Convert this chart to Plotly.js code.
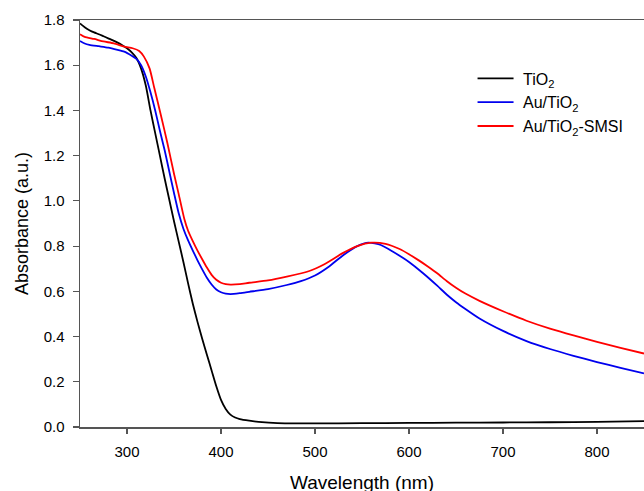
<!DOCTYPE html>
<html>
<head>
<meta charset="utf-8">
<script src="https://cdn.plot.ly/plotly-3.0.1.min.js"></script>
<style>html,body{margin:0;padding:0;background:#fff;}#chart{width:644px;height:491px;}</style>
</head>
<body>
<div id="chart"></div>
<script>
// Wavelength (nm) and absorbance (a.u.)
const seriesNames = ["\u00a0TiO<sub>2</sub>", "\u00a0Au/TiO<sub>2</sub>", "\u00a0Au/TiO<sub>2</sub>-SMSI"];

const tio2Wavelength = [250,255,260,265,270,275,280,285,290,295,300,305,310,315,320,325,330,335,340,345,350,355,360,365,370,375,380,385,390,395,400,405,410,415,420,430,440,460,500,550,600,650,700,750,800,850];
const tio2Absorbance = [1.785,1.768,1.755,1.745,1.737,1.728,1.719,1.710,1.700,1.688,1.675,1.657,1.632,1.585,1.510,1.400,1.300,1.200,1.100,1.005,0.910,0.820,0.730,0.635,0.545,0.465,0.390,0.320,0.250,0.180,0.120,0.080,0.055,0.042,0.035,0.028,0.023,0.017,0.016,0.017,0.018,0.019,0.020,0.021,0.023,0.026];

const auWavelength = [250,255,260,270,280,290,297,305,310,315,320,325,330,335,340,345,350,355,360,365,370,375,380,385,390,395,400,405,410,420,430,450,470,485,500,515,530,545,557,570,583,600,615,630,640,650,660,675,700,725,750,775,800,825,850];
const auAbsorbance = [1.707,1.696,1.690,1.684,1.678,1.668,1.660,1.642,1.628,1.600,1.550,1.480,1.400,1.310,1.225,1.130,1.035,0.945,0.877,0.825,0.780,0.737,0.697,0.660,0.630,0.608,0.596,0.590,0.588,0.592,0.598,0.610,0.628,0.645,0.670,0.710,0.760,0.800,0.815,0.805,0.775,0.730,0.680,0.625,0.586,0.552,0.522,0.480,0.425,0.380,0.345,0.315,0.287,0.262,0.237];

const smsiWavelength = [250,255,265,275,286,297,306,313,318,324,329,336,343,350,355,361,365,370,375,380,385,390,395,400,405,410,420,430,450,470,494,510,530,545,560,575,590,600,610,620,630,640,650,660,675,700,725,750,775,800,825,850];
const smsiAbsorbance = [1.737,1.725,1.716,1.705,1.697,1.682,1.675,1.663,1.638,1.586,1.500,1.380,1.255,1.120,1.030,0.920,0.868,0.822,0.780,0.742,0.705,0.673,0.651,0.638,0.632,0.630,0.632,0.638,0.648,0.665,0.690,0.720,0.770,0.800,0.815,0.810,0.787,0.764,0.738,0.710,0.680,0.646,0.616,0.590,0.558,0.512,0.470,0.435,0.405,0.377,0.350,0.325];

const xTicks = [300,400,500,600,700,800];
const yTicks = [0,0.2,0.4,0.6,0.8,1.0,1.2,1.4,1.6,1.8];
const xTitle = "Wavelength (nm)";
const yTitle = "Absorbance (a.u.)";

const FONT = "Liberation Sans, Arial, sans-serif";
const AXC = "#555555";

const colors = ["#000000", "#0000ee", "#ff0000"];
const xs = [tio2Wavelength, auWavelength, smsiWavelength];
const ys = [tio2Absorbance, auAbsorbance, smsiAbsorbance];

const traces = xs.map((x, i) => ({
  type: "scatter", mode: "lines", x: x, y: ys[i], name: seriesNames[i],
  line: {color: colors[i], width: 1.8, shape: "spline", smoothing: 0.6}
}));

const layout = {
  width: 644, height: 491,
  margin: {l: 80, r: 0, t: 20, b: 64},
  paper_bgcolor: "#ffffff", plot_bgcolor: "#ffffff",
  font: {family: FONT, size: 15, color: "#000000"},
  showlegend: true,
  legend: {x: 0.696, y: 0.898, xanchor: "left", yanchor: "top", bgcolor: "rgba(0,0,0,0)",
           font: {family: FONT, size: 16, color: "#000"}, itemwidth: 36, tracegroupgap: 0},
  xaxis: {
    range: [250, 850], tickvals: xTicks, ticktext: xTicks.map(String),
    ticks: "outside", ticklen: 5, tickwidth: 1.2, tickcolor: AXC,
    showline: true, linecolor: AXC, linewidth: 1.5, mirror: true,
    showgrid: false, zeroline: false, ticklabelstandoff: 5,
    tickfont: {family: FONT, size: 15, color: "#000"}
  },
  yaxis: {
    range: [0, 1.8], tickvals: yTicks, ticktext: yTicks.map(v => v.toFixed(1)),
    ticks: "outside", ticklen: 6, tickwidth: 1.2, tickcolor: AXC,
    showline: true, linecolor: AXC, linewidth: 1.5,
    showgrid: false, zeroline: false, ticklabelstandoff: 5,
    tickfont: {family: FONT, size: 15, color: "#000"},
    title: {text: yTitle, font: {family: FONT, size: 18, color: "#000"}, standoff: 10}
  },
  annotations: [{
    text: xTitle, xref: "paper", yref: "paper", x: 0.5, y: 0,
    xanchor: "center", yanchor: "middle", yshift: -55, showarrow: false,
    font: {family: FONT, size: 19, color: "#000"}
  }]
};

Plotly.newPlot("chart", traces, layout, {displayModeBar: false, staticPlot: true});
</script>
</body>
</html>
